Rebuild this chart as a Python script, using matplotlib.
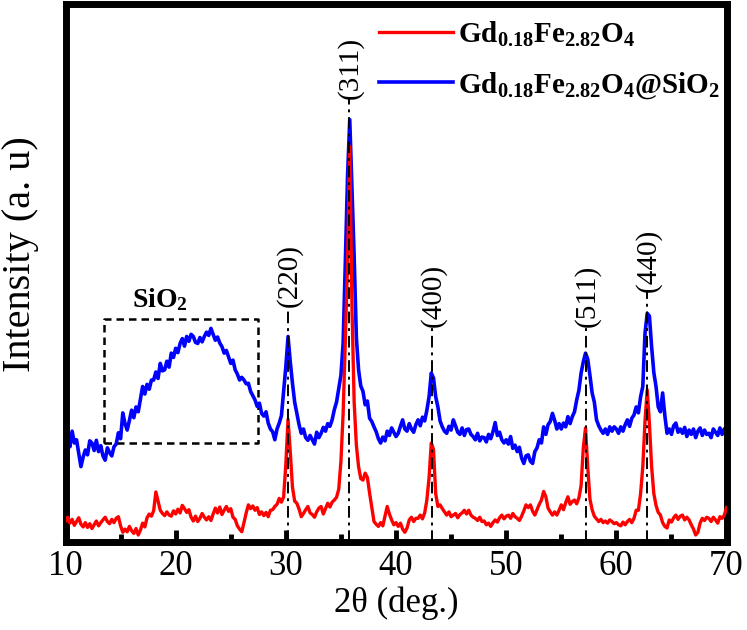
import numpy as np
import matplotlib
matplotlib.use("Agg")
import matplotlib.pyplot as plt
from matplotlib.ticker import MultipleLocator

plt.rcParams['font.family'] = ['Liberation Serif', 'DejaVu Serif']
plt.rcParams['mathtext.fontset'] = 'custom'
plt.rcParams['mathtext.rm'] = 'Liberation Serif'
plt.rcParams['mathtext.bf'] = 'Liberation Serif:bold'
plt.rcParams['mathtext.it'] = 'Liberation Serif:italic'

# 2theta grid, 0.2 deg step (10.0 ... 70.0)
two_theta = np.round(np.arange(10.0, 70.01, 0.2), 1)

# Gd0.18Fe2.82O4 (red), arbitrary units
red_counts = [
    3.9, 4.6, 3.5, 4.2, 3.1, 3.8, 4.5, 3.3, 2.8, 3.6,
    2.7, 3.4, 2.5, 3.2, 3.9, 3.0, 3.6, 4.1, 4.6, 3.8,
    3.4, 4.2, 3.6, 4.4, 4.7, 3.0, 1.8, 2.4, 1.9, 2.9,
    2.1, 1.6, 2.5, 1.3, 2.2, 3.5, 2.8, 4.5, 5.2, 4.8,
    5.8, 9.3, 7.6, 5.9, 5.3, 4.9, 5.6, 5.0, 4.8, 5.8,
    5.2, 6.1, 5.4, 6.8, 6.2, 5.5, 6.0, 4.6, 3.9, 4.8,
    3.8, 4.4, 5.3, 4.6, 4.1, 4.7, 4.0, 5.2, 6.3, 5.4,
    6.5, 5.1, 5.9, 6.6, 5.7, 6.2, 4.6, 4.2, 3.0, 2.4,
    1.9, 3.6, 5.4, 6.9, 6.2, 6.7, 5.9, 6.4, 5.1, 5.6,
    4.9, 5.5, 4.7, 5.9, 6.0, 6.6, 7.0, 8.1, 7.4, 8.4,
    14.5, 22.8, 16.8, 10.2, 7.6, 7.2, 6.1, 4.7, 5.3, 6.0,
    6.6, 5.4, 5.1, 4.6, 5.6, 6.3, 6.6, 5.2, 6.2, 7.2,
    6.5, 7.4, 7.8, 8.3, 9.8, 15.0, 24.0, 37.5, 52.0, 73.5,
    43.7, 26.0, 18.0, 14.0, 11.8, 11.5, 12.8, 12.0, 9.1, 6.5,
    3.8, 3.3, 2.9, 3.6, 3.0, 4.8, 6.6, 5.2, 4.1, 3.2,
    3.6, 2.9, 3.5, 2.4, 1.8, 2.6, 4.1, 4.6, 3.8, 4.4,
    4.4, 5.0, 4.3, 5.4, 7.8, 12.0, 18.4, 17.2, 9.0, 6.6,
    6.9, 6.2, 5.6, 5.0, 5.6, 4.7, 5.0, 5.3, 4.5, 5.1,
    5.4, 5.9, 5.2, 5.9, 5.0, 4.6, 4.4, 4.0, 4.6, 3.8,
    3.9, 3.2, 3.5, 2.9, 3.6, 4.1, 3.7, 4.5, 5.0, 4.3,
    4.8, 5.0, 4.4, 5.3, 4.7, 4.4, 4.0, 4.8, 5.8, 6.9,
    6.4, 6.9, 5.7, 5.0, 6.0, 7.0, 7.8, 9.4, 8.4, 6.3,
    5.6, 5.0, 5.6, 5.0, 5.9, 6.9, 6.0, 7.3, 8.4, 7.0,
    7.5, 7.8, 7.1, 8.2, 10.5, 17.5, 21.2, 14.0, 8.0, 6.0,
    4.8, 4.3, 3.8, 4.2, 3.6, 3.9, 3.5, 4.1, 3.8, 3.4,
    3.6, 3.2, 3.0, 3.7, 3.2, 3.8, 4.2, 3.6, 4.4, 5.9,
    5.9, 9.0, 14.0, 22.5, 28.3, 22.0, 14.0, 9.0, 6.8, 5.5,
    5.0, 3.6, 2.9, 2.6, 4.1, 3.7, 4.5, 5.0, 4.2, 4.8,
    5.0, 4.1, 4.6, 4.1, 3.2, 2.4, 1.3, 1.8, 3.5, 4.4,
    4.0, 4.6, 4.4, 3.8, 4.6, 4.1, 3.5, 4.7, 4.4, 5.0,
    6.4,
]

# Gd0.18Fe2.82O4@SiO2 (blue), arbitrary units
blue_counts = [
    21.4, 19.5, 17.7, 20.6, 18.4, 19.0, 16.5, 14.0, 15.8, 17.1,
    16.2, 18.8, 18.4, 17.0, 18.9, 16.8, 17.9, 16.0, 15.2, 17.5,
    16.6, 16.0, 17.7, 18.2, 20.3, 19.2, 24.0, 22.0, 20.8, 22.6,
    24.5, 23.1, 25.1, 24.2, 26.6, 28.9, 27.5, 29.3, 28.4, 30.1,
    30.1, 31.6, 30.4, 33.2, 31.8, 32.0, 33.6, 32.5, 35.1, 34.3,
    36.0, 35.2, 36.9, 37.8, 36.4, 38.2, 37.3, 38.6, 38.2, 37.1,
    36.9, 38.0, 37.2, 38.2, 39.0, 38.4, 39.7, 38.6, 37.5, 38.1,
    37.0, 36.3, 35.1, 35.6, 34.4, 33.2, 33.8, 32.0, 31.2, 30.1,
    30.6, 30.1, 29.4, 29.5, 28.0, 27.2, 26.4, 25.2, 25.8, 23.9,
    23.4, 24.2, 22.1, 21.0, 20.5, 19.0, 21.0, 22.1, 23.5, 28.0,
    32.6, 38.2, 33.5, 29.5, 26.0, 23.9, 21.8, 20.2, 21.0, 19.4,
    18.9, 19.8, 19.0, 18.2, 20.4, 19.4, 20.2, 21.3, 20.6, 22.0,
    21.5, 22.7, 24.6, 26.0, 28.5, 31.0, 37.0, 52.0, 68.0, 78.5,
    66.0, 53.0, 38.0, 32.0, 29.0, 28.0, 25.5, 26.2, 23.0, 22.4,
    21.4, 20.5, 19.2, 18.4, 19.5, 18.8, 20.6, 19.8, 21.2, 20.4,
    19.6, 20.2, 21.5, 22.7, 21.0, 20.6, 22.0, 21.0, 20.4, 21.8,
    22.7, 21.6, 23.2, 22.5, 24.5, 27.0, 31.4, 30.5, 27.0, 25.1,
    22.5, 21.4, 20.6, 20.2, 21.5, 20.8, 22.7, 21.6, 20.4, 20.0,
    21.2, 19.8, 20.9, 21.0, 20.0, 19.6, 19.0, 20.2, 18.8, 19.5,
    19.4, 18.6, 20.0, 19.2, 20.5, 22.2, 19.8, 20.4, 19.0, 18.4,
    19.0, 18.2, 19.6, 17.4, 18.0, 16.8, 17.6, 15.6, 14.6, 16.0,
    16.2, 15.0, 14.6, 16.8, 17.5, 19.0, 18.4, 21.4, 20.0, 21.8,
    22.4, 23.9, 22.6, 21.0, 22.0, 21.0, 22.1, 21.4, 23.3, 22.0,
    23.3, 24.2, 26.4, 28.2, 31.4, 33.5, 35.1, 34.0, 31.0, 27.7,
    26.0, 22.7, 21.6, 20.8, 20.2, 21.0, 20.0, 21.4, 20.6, 21.4,
    21.0, 20.2, 21.4, 20.6, 21.8, 22.7, 21.5, 23.0, 23.6, 25.1,
    24.0, 27.0, 28.9, 38.8, 42.5, 42.0, 36.3, 31.5, 28.9, 25.1,
    24.2, 27.7, 23.5, 20.2, 21.0, 20.0, 21.6, 22.1, 20.4, 21.0,
    20.2, 21.3, 19.6, 20.8, 20.0, 21.0, 19.4, 20.6, 21.2, 19.8,
    20.8, 20.0, 20.2, 19.4, 21.0, 20.4, 19.8, 21.2, 20.0, 21.0,
    21.4,
]

# Miller indices, peak positions and top of the guide line
hkl_labels = ["(220)", "(311)", "(400)", "(511)", "(440)"]
hkl_pos = [30.24, 35.77, 43.3, 57.25, 62.8]
hkl_top = [44.0, 82.7, 40.3, 40.3, 46.8]

# dashed box around the amorphous SiO2 hump
box_x = [13.45, 27.5]
box_y = [18.4, 41.5]

fig = plt.figure(figsize=(7.47, 6.30), dpi=100)
ax = fig.add_axes([0.0877, 0.1397, 0.8849, 0.8540])

ax.plot(two_theta, blue_counts, color='#0000ff', lw=2.6,
        label=r'$\mathbf{Gd_{0.18}Fe_{2.82}O_4@SiO_2}$', zorder=2)
ax.plot(two_theta, red_counts, color='#ff0000', lw=2.4,
        label=r'$\mathbf{Gd_{0.18}Fe_{2.82}O_4}$', zorder=3)

for lab, xp, yt in zip(hkl_labels, hkl_pos, hkl_top):
    ax.plot([xp, xp], [0, yt], color='black', lw=1.4,
            linestyle=(0, (6, 2.5, 1.5, 2.5)), zorder=4)
    ax.text(xp + 0.1, yt - 0.3, lab, rotation=90, ha='center', va='bottom',
            fontsize=21)

ax.plot([box_x[0], box_x[1], box_x[1], box_x[0], box_x[0]],
        [box_y[0], box_y[0], box_y[1], box_y[1], box_y[0]],
        color='black', lw=1.8, linestyle=(0, (3, 2)), zorder=1)
ax.text(18.6, 45.0, r'$\mathbf{SiO_2}$', ha='center', va='center', fontsize=20)

ax.set_xlim(10, 70)
ax.set_ylim(0, 100)
ax.xaxis.set_major_locator(MultipleLocator(10))
ax.xaxis.set_minor_locator(MultipleLocator(5))
ax.tick_params(axis='x', which='major', direction='in', length=9, width=3.5,
               labelsize=25, pad=6)
ax.tick_params(axis='x', which='minor', direction='in', length=6, width=3.5)
ax.set_yticks([])
for s in ax.spines.values():
    s.set_linewidth(5)

ax.set_xlabel('2θ (deg.)', fontsize=25, labelpad=2)
ax.set_ylabel('Intensity (a. u)', fontsize=29)
ax.yaxis.set_label_coords(-0.04, 0.535)

handles, labels = ax.get_legend_handles_labels()
ax.legend(handles[::-1], labels[::-1], loc='upper right', frameon=False,
          fontsize=21, handlelength=2.53, handletextpad=0.2,
          labelspacing=0.73, borderpad=0.2, borderaxespad=0.0,
          bbox_to_anchor=(1.0, 0.982))

fig.savefig('out.png', dpi=100)
